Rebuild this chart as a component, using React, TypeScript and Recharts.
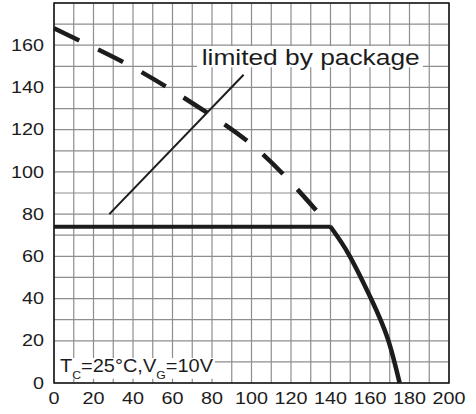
import React from "react";
import {
  LineChart,
  Line,
  XAxis,
  YAxis,
  CartesianGrid,
  ReferenceArea,
} from "recharts";

// grid every 10, labels every 20
const xTicks = [0, 10, 20, 30, 40, 50, 60, 70, 80, 90, 100, 110, 120, 130, 140, 150, 160, 170, 180, 190, 200];
const yTicks = [0, 10, 20, 30, 40, 50, 60, 70, 80, 90, 100, 110, 120, 130, 140, 150, 160, 170, 180];
const yLabelMax = 160;

// upper part of the derating curve (dashed, above the package limit)
const dashedCurve = [
  { x: 0, y: 168 },
  { x: 20, y: 159 },
  { x: 40, y: 149.5 },
  { x: 60, y: 138.5 },
  { x: 80, y: 126.5 },
  { x: 100, y: 113 },
  { x: 120, y: 95 },
  { x: 140, y: 74 },
];

// lower part of the derating curve (solid)
const solidCurve = [
  { x: 140, y: 74 },
  { x: 149.5, y: 60.5 },
  { x: 160.5, y: 40 },
  { x: 169, y: 21 },
  { x: 175, y: 0 },
];

// package limit
const packageLimit = [
  { x: 0, y: 74 },
  { x: 140, y: 74 },
];

// pointer from the label to the limit
const pointer = [
  { x: 28, y: 80 },
  { x: 96, y: 146 },
];

const ink = "#1c1c1c";
const digitW = 11;

function XTick(props: any) {
  const { x, y, payload } = props;
  const v = payload.value;
  if (v % 20 !== 0) return null;
  const s = String(v);
  return (
    <text
      x={x}
      y={y + 20.7}
      textAnchor="middle"
      fontSize={16}
      fontFamily="Liberation Sans, Arial, sans-serif"
      fill={ink}
      textLength={s.length * digitW}
      lengthAdjust="spacingAndGlyphs"
    >
      {s}
    </text>
  );
}

function YTick(props: any) {
  const { x, y, payload } = props;
  const v = payload.value;
  if (v % 20 !== 0 || v > yLabelMax) return null;
  const s = String(v);
  return (
    <text
      x={x - 10}
      y={y + 5.7}
      textAnchor="end"
      fontSize={16}
      fontFamily="Liberation Sans, Arial, sans-serif"
      fill={ink}
      textLength={s.length * digitW}
      lengthAdjust="spacingAndGlyphs"
    >
      {s}
    </text>
  );
}

function PackageLabel(props: any) {
  const { viewBox } = props;
  if (!viewBox) return null;
  return (
    <text
      x={viewBox.x + 4.7}
      y={viewBox.y + 19.3}
      fontSize={22}
      fontFamily="Liberation Sans, Arial, sans-serif"
      fill={ink}
      textLength={218}
      lengthAdjust="spacingAndGlyphs"
    >
      limited by package
    </text>
  );
}

function ConditionLabel(props: any) {
  const { viewBox } = props;
  if (!viewBox) return null;
  return (
    <text
      x={viewBox.x + 5}
      y={viewBox.y + 14}
      fontSize={18}
      fontFamily="Liberation Sans, Arial, sans-serif"
      fill={ink}
      textLength={153}
      lengthAdjust="spacingAndGlyphs"
    >
      T
      <tspan fontSize={11} dy={7}>C</tspan>
      <tspan dy={-7}>=25°C,V</tspan>
      <tspan fontSize={11} dy={7}>G</tspan>
      <tspan dy={-7}>=10V</tspan>
    </text>
  );
}

export default function App() {
  return (
    <div style={{ position: "absolute", left: 0, top: 0, background: "#fff" }}>
      <LineChart
        width={476}
        height={414}
        margin={{ top: 3, right: 27, bottom: 0, left: 0 }}
      >
        <CartesianGrid stroke="#8e8e8e" strokeWidth={1.2} />
        <XAxis
          type="number"
          dataKey="x"
          domain={[0, 200]}
          ticks={xTicks}
          interval={0}
          height={31}
          axisLine={false}
          tickLine={false}
          tickSize={0}
          tickMargin={0}
          tick={<XTick />}
        />
        <YAxis
          type="number"
          domain={[0, 180]}
          ticks={yTicks}
          interval={0}
          width={54}
          axisLine={false}
          tickLine={false}
          tickSize={0}
          tickMargin={0}
          tick={<YTick />}
        />
        <ReferenceArea
          x1={72.4}
          x2={186.8}
          y1={149.6}
          y2={159.6}
          fill="#fff"
          fillOpacity={1}
          stroke="none"
          label={<PackageLabel />}
        />
        <ReferenceArea
          x1={0.5}
          x2={81.5}
          y1={2}
          y2={11.9}
          fill="#fff"
          fillOpacity={1}
          stroke="none"
          label={<ConditionLabel />}
        />
        <Line
          data={dashedCurve}
          dataKey="y"
          type="natural"
          stroke={ink}
          strokeWidth={4.5}
          strokeDasharray="28 21"
          dot={false}
          isAnimationActive={false}
        />
        <Line
          data={solidCurve}
          dataKey="y"
          type="natural"
          stroke={ink}
          strokeWidth={4.5}
          dot={false}
          isAnimationActive={false}
        />
        <Line
          data={packageLimit}
          dataKey="y"
          type="linear"
          stroke={ink}
          strokeWidth={4}
          dot={false}
          isAnimationActive={false}
        />
        <Line
          data={pointer}
          dataKey="y"
          type="linear"
          stroke={ink}
          strokeWidth={2}
          dot={false}
          isAnimationActive={false}
        />
        <ReferenceArea
          x1={0}
          x2={200}
          y1={0}
          y2={180}
          fill="none"
          stroke="#111"
          strokeWidth={1.5}
        />
      </LineChart>
    </div>
  );
}
